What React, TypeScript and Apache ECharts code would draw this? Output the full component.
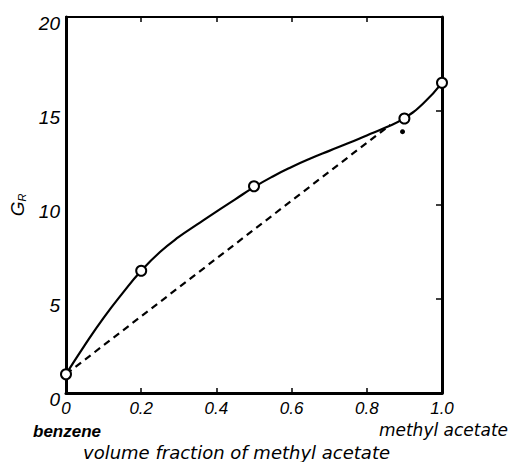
import React, { useEffect, useRef } from "react";
import * as echarts from "echarts";

// Measured points (open circles)
const pointX = [0, 0.2, 0.5, 0.9, 1.0];
const pointY = [1.0, 6.5, 11.0, 14.6, 16.5];

// Smooth solid curve through the points (read every 0.05)
const curveX = [0, 0.05, 0.1, 0.15, 0.2, 0.25, 0.3, 0.35, 0.4, 0.45, 0.5, 0.55, 0.6, 0.65, 0.7, 0.75, 0.8, 0.85, 0.9, 0.95, 1.0];
const curveY = [1.0, 2.55, 4.0, 5.3, 6.5, 7.5, 8.3, 8.98, 9.65, 10.3, 10.95, 11.52, 12.02, 12.47, 12.88, 13.28, 13.7, 14.12, 14.62, 15.4, 16.5];

// Dashed straight line (additive rule)
const dashX = [0, 0.862];
const dashY = [1.0, 14.26];

// Filled dot
const dotX = [0.895];
const dotY = [13.9];

const xTicks = ["0", "0.2", "0.4", "0.6", "0.8", "1.0"];
const yTicks = ["0", "5", "10", "15", "20"];

const FONT = "Liberation Sans";
const WIDE = "DejaVu Sans";

export default function App() {
  const ref = useRef<HTMLDivElement>(null);
  useEffect(() => {
    if (!ref.current) return;
    const chart = echarts.init(ref.current, null, { renderer: "svg" });
    const pairs = (xs: number[], ys: number[]) => xs.map((x, i) => [x, ys[i]]);
    const axisLine = { show: true, onZero: false, lineStyle: { color: "#000", width: 3 } };
    const tick = { show: true, inside: true, length: 5, lineStyle: { color: "#000", width: 1.5 } };
    chart.setOption({
      animation: false,
      backgroundColor: "#fff",
      grid: { left: 66, right: 69, top: 17, bottom: 69 },
      xAxis: [
        {
          type: "value",
          min: 0,
          max: 1,
          interval: 0.2,
          position: "bottom",
          axisLine,
          axisTick: tick,
          splitLine: { show: false },
          axisLabel: {
            color: "#000",
            fontFamily: FONT,
            fontStyle: "italic",
            fontSize: 17,
            margin: 7,
            formatter: (v: number) => xTicks[Math.round(v / 0.2)],
          },
        },
        {
          type: "value",
          min: 0,
          max: 1,
          interval: 0.2,
          position: "top",
          axisLine: { show: true, onZero: false, lineStyle: { color: "#000", width: 2.2 } },
          axisTick: tick,
          axisLabel: { show: false },
          splitLine: { show: false },
        },
      ],
      yAxis: [
        {
          type: "value",
          min: 0,
          max: 20,
          interval: 5,
          position: "left",
          axisLine,
          axisTick: { show: false },
          splitLine: { show: false },
          axisLabel: {
            color: "#000",
            fontFamily: FONT,
            fontStyle: "italic",
            fontSize: 19,
            margin: 6,
            verticalAlign: "top",
            lineHeight: 12,
            formatter: (v: number) => yTicks[Math.round(v / 5)],
          },
          name: "{g|G}{r|R}",
          nameLocation: "middle",
          nameRotate: 90,
          nameGap: 32,
          nameTextStyle: {
            color: "#000",
            rich: {
              g: { fontFamily: FONT, fontStyle: "italic", fontSize: 19, color: "#000" },
              r: { fontFamily: FONT, fontStyle: "italic", fontSize: 11, color: "#000", padding: [9, 0, 0, 0] },
            },
          },
        },
        {
          type: "value",
          min: 0,
          max: 20,
          interval: 5,
          position: "right",
          axisLine,
          axisTick: { ...tick, length: 6 },
          axisLabel: { show: false },
          splitLine: { show: false },
        },
      ],
      series: [
        {
          type: "line",
          data: pairs(curveX, curveY),
          smooth: 0.5,
          symbol: "none",
          lineStyle: { color: "#000", width: 2.2 },
          z: 2,
        },
        {
          type: "line",
          data: pairs(dashX, dashY),
          symbol: "none",
          lineStyle: { color: "#000", width: 2.2, type: [7, 5] },
          z: 2,
        },
        {
          type: "scatter",
          data: pairs(pointX, pointY),
          symbol: "circle",
          symbolSize: 10,
          itemStyle: { color: "#fff", borderColor: "#000", borderWidth: 2, opacity: 1 },
          z: 3,
        },
        {
          type: "scatter",
          data: pairs(dotX, dotY),
          symbol: "circle",
          symbolSize: 5,
          itemStyle: { color: "#000", opacity: 1 },
          z: 3,
        },
      ],
      graphic: [
        {
          type: "text",
          left: 33,
          top: 423,
          style: { text: "benzene", fontFamily: FONT, fontStyle: "italic", fontWeight: "bold", fontSize: 17, fill: "#000" },
        },
        {
          type: "text",
          right: 3,
          top: 421,
          style: { text: "methyl acetate", fontFamily: WIDE, fontStyle: "italic", fontSize: 17, fill: "#000" },
        },
        {
          type: "text",
          left: 83,
          top: 443,
          style: { text: "volume fraction of methyl acetate", fontFamily: WIDE, fontStyle: "italic", fontSize: 18, fill: "#000" },
        },
      ],
    });
    return () => chart.dispose();
  }, []);
  return <div ref={ref} style={{ width: 511, height: 462, position: "absolute", left: 0, top: 0 }} />;
}
